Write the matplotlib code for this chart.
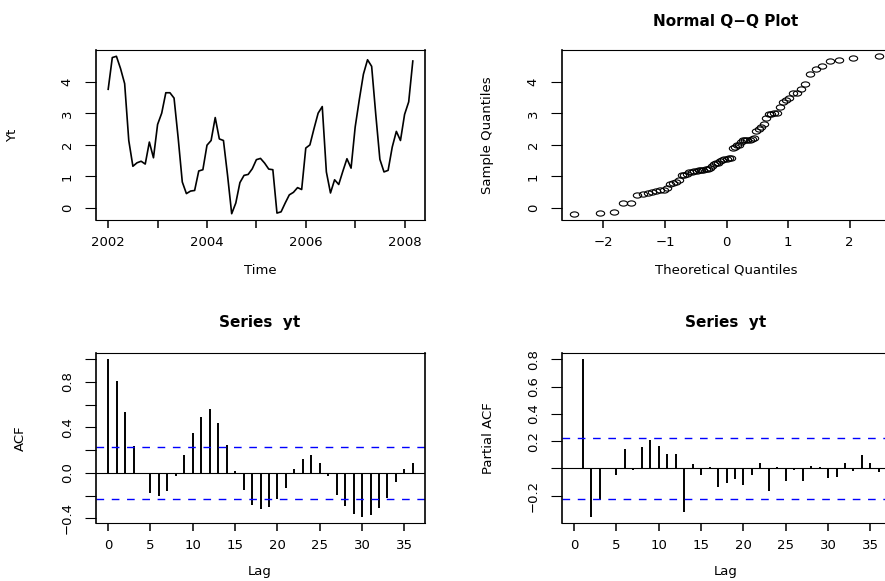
import numpy as np
import matplotlib.pyplot as plt
from matplotlib.path import Path
from matplotlib.transforms import Affine2D
from statistics import NormalDist

# monthly series, Jan 2002 .. Mar 2008
yt = [3.77, 4.78, 4.82, 4.43, 3.95, 2.14, 1.32, 1.43, 1.48, 1.39, 2.09, 1.59,
      2.65, 3.01, 3.66, 3.66, 3.49, 2.22, 0.82, 0.45, 0.53, 0.55, 1.17, 1.21,
      1.99, 2.14, 2.87, 2.19, 2.14, 1.03, -0.19, 0.15, 0.80, 1.03, 1.06, 1.24,
      1.53, 1.57, 1.42, 1.23, 1.21, -0.17, -0.13, 0.15, 0.41, 0.49, 0.64, 0.58,
      1.90, 2.00, 2.52, 3.01, 3.22, 1.14, 0.47, 0.89, 0.74, 1.16, 1.56, 1.26,
      2.57, 3.44, 4.25, 4.71, 4.50, 2.97, 1.54, 1.14, 1.19, 1.93, 2.43, 2.14,
      2.97, 3.37, 4.67]
start_year = 2002

acf_vals = [1.0, 0.81, 0.535, 0.234, -0.01, -0.176, -0.20, -0.158, -0.026, 0.161,
            0.354, 0.49, 0.56, 0.436, 0.246, 0.02, -0.152, -0.28, -0.32, -0.30,
            -0.234, -0.137, 0.035, 0.123, 0.161, 0.091, -0.03, -0.193, -0.293, -0.366,
            -0.386, -0.372, -0.31, -0.22, -0.079, 0.035, 0.091]

pacf_vals = [0.80, -0.354, -0.232, -0.007, -0.051, 0.146, -0.012, 0.159, 0.207, 0.163,
             0.105, 0.105, -0.317, 0.029, -0.046, 0.01, -0.137, -0.105, -0.08, -0.124,
             -0.046, 0.039, -0.168, 0.01, -0.09, -0.012, -0.095, 0.017, 0.01, -0.071,
             -0.061, 0.037, -0.02, 0.098, 0.041, -0.027]

n = len(yt)
clim = 1.96 / np.sqrt(n)

plt.rcParams['font.family'] = ['DejaVu Sans']
FS = 9.5
TS = 11

W, H = 885, 581
fig = plt.figure(figsize=(W / 100, H / 100), dpi=100)


def px_box(l, t, r, b):
    return [l / W, 1 - b / H, (r - l) / W, (b - t) / H]


def rlim(lo, hi):
    pad = (hi - lo) * 0.04
    return lo - pad, hi + pad


def style(ax):
    for side in ['left', 'right']:
        ax.spines[side].set_linewidth(1.2)
    for side in ['top', 'bottom']:
        ax.spines[side].set_linewidth(0.8)
    ax.tick_params(axis='x', direction='out', length=5.8, width=1.1, pad=6, labelsize=FS)
    ax.tick_params(axis='y', direction='out', length=8, width=0.8, pad=8, labelsize=FS)
    for lab in ax.get_yticklabels():
        lab.set_rotation(90)
        lab.set_va('center')


def ftext(x, y, s, size=FS, **kw):
    fig.text(x / W, 1 - y / H, s, ha='center', va='center', fontsize=size, **kw)


def minus(v, fmt):
    return (fmt % v).replace('-', '\u2212')


# time plot
ax1 = fig.add_axes(px_box(96, 50, 425, 220))
t = start_year + np.arange(n) / 12
ax1.plot(t, yt, color='black', lw=1.2)
ax1.set_xlim(*rlim(t[0], t[-1]))
ax1.set_ylim(*rlim(min(yt), max(yt)))
years = np.arange(2002, 2009)
ax1.set_xticks(years)
ax1.set_xticklabels([str(y) if y % 2 == 0 else '' for y in years])
ax1.set_yticks(range(0, 5))
ax1.set_yticklabels([str(v) for v in range(0, 5)])
style(ax1)
ftext(260, 270, 'Time')
ftext(13, 135, 'Yt', rotation=90)

# normal Q-Q plot
ax2 = fig.add_axes(px_box(562, 50, 891, 220))
theo = [NormalDist().inv_cdf((i + 0.5) / n) for i in range(n)]
samp = sorted(yt)
ring = Path.unit_circle().transformed(Affine2D().scale(1.6, 1.0))
ax2.plot(theo, samp, ls='none', marker=ring, markersize=6,
         markerfacecolor='none', markeredgecolor='black', markeredgewidth=0.8)
ax2.set_xlim(*rlim(min(theo), max(theo)))
ax2.set_ylim(*rlim(min(samp), max(samp)))
ax2.set_xticks(range(-2, 3))
ax2.set_xticklabels([minus(v, '%d') for v in range(-2, 3)])
ax2.set_yticks(range(0, 5))
ax2.set_yticklabels([str(v) for v in range(0, 5)])
style(ax2)
ftext(726, 21, 'Normal Q\u2212Q Plot', size=TS, fontweight='bold')
ftext(726, 270, 'Theoretical Quantiles')
ftext(488, 135, 'Sample Quantiles', rotation=90)

# ACF
ax3 = fig.add_axes(px_box(96, 353, 425, 523))
lags = np.arange(len(acf_vals))
ax3.vlines(lags, 0, acf_vals, color='black', lw=1.4)
ax3.axhline(0, color='black', lw=0.8)
for c in (clim, -clim):
    ax3.axhline(c, color='#0000ff', lw=1.0, ls=(0, (5.5, 5.5)))
ax3.set_xlim(*rlim(lags[0], lags[-1]))
ax3.set_ylim(*rlim(min(min(acf_vals), -clim), max(max(acf_vals), clim)))
ax3.set_xticks(range(0, 36, 5))
ax3.set_xticklabels([str(v) for v in range(0, 36, 5)])
yt3 = np.round(np.arange(-0.4, 1.01, 0.2), 1)
ax3.set_yticks(yt3)
ax3.set_yticklabels([minus(v, '%.1f') if i % 2 == 0 else '' for i, v in enumerate(yt3)])
style(ax3)
ftext(260, 322, 'Series  yt', size=TS, fontweight='bold')
ftext(260, 572, 'Lag')
ftext(20, 438, 'ACF', rotation=90)

# partial ACF
ax4 = fig.add_axes(px_box(562, 353, 891, 523))
plags = np.arange(1, len(pacf_vals) + 1)
ax4.vlines(plags, 0, pacf_vals, color='black', lw=1.4)
ax4.axhline(0, color='black', lw=0.8)
for c in (clim, -clim):
    ax4.axhline(c, color='#0000ff', lw=1.0, ls=(0, (5.5, 5.5)))
ax4.set_xlim(*rlim(0, plags[-1]))
ax4.set_ylim(*rlim(min(min(pacf_vals), -clim), max(max(pacf_vals), clim)))
ax4.set_xticks(range(0, 36, 5))
ax4.set_xticklabels([str(v) for v in range(0, 36, 5)])
yt4 = np.round(np.arange(-0.2, 0.81, 0.2), 1)
ax4.set_yticks(yt4)
ax4.set_yticklabels([minus(v, '%.1f') if abs(v) > 1e-9 else '' for v in yt4])
style(ax4)
ftext(726, 322, 'Series  yt', size=TS, fontweight='bold')
ftext(726, 572, 'Lag')
ftext(488, 438, 'Partial ACF', rotation=90)

fig.savefig('out.png', dpi=100)
